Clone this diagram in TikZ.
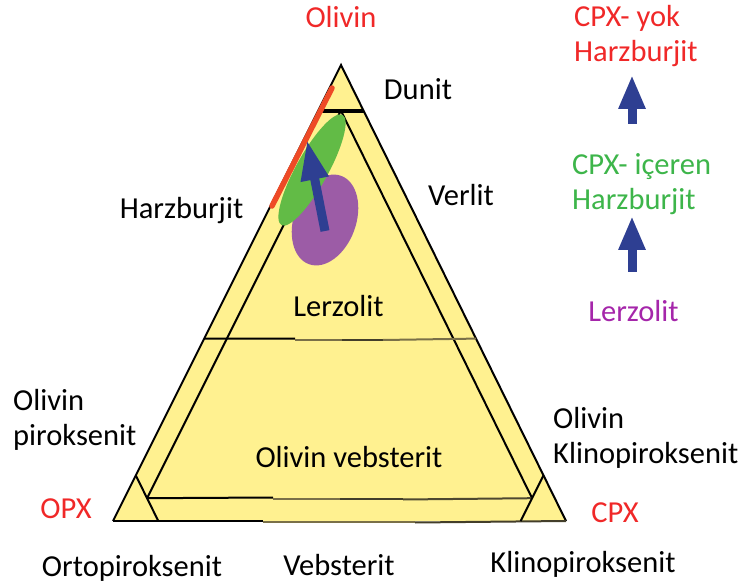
\documentclass[tikz,border=0pt]{standalone}
\usepackage{fontspec}
\setmainfont{Carlito}
\usetikzlibrary{arrows.meta}
\definecolor{triyellow}{HTML}{FFF190}
\definecolor{lblred}{HTML}{F02828}
\definecolor{lblgreen}{HTML}{3DB54A}
\definecolor{lblpurple}{HTML}{A526AA}
\definecolor{blobpurple}{HTML}{9C5CA6}
\definecolor{blobgreen}{HTML}{62BB46}
\definecolor{bandred}{HTML}{EE4A26}
\definecolor{arrowblue}{HTML}{2E3F92}
\definecolor{fadeline}{HTML}{7A7048}
\definecolor{darkline}{HTML}{433E2A}
\begin{document}
\begin{tikzpicture}[x=1pt,y=-1pt,
    lbl/.style={font=\fontsize{30.5}{36}\selectfont, inner sep=0pt, anchor=base},
    lblw/.style={lbl, anchor=base west},
    edge/.style={line width=2pt, line join=miter},
    uparrow/.style={arrowblue, line width=9pt, -{Triangle[length=34pt,width=25pt]}}]
    \useasboundingbox (0,0) rectangle (747,585);

    \coordinate (ol) at (341,65);
    \coordinate (opx) at (113,521);
    \coordinate (cpx) at (566,521);

    % field and outer sides
    \fill[triyellow] (ol) -- (opx) -- (cpx) -- cycle;
    \draw[edge] (opx) -- (ol) -- (cpx);
    \draw[edge] (opx) -- (263,521);
    \draw[edge, fadeline] (263,522) -- (415,522);
    \draw[edge, darkline] (415,522.5) -- (cpx);

    % 5 % lines
    \draw[edge] (barycentric cs:ol=0.9,opx=0.05,cpx=0.05) -- (barycentric cs:ol=0.05,opx=0.9,cpx=0.05);
    \draw[edge] (barycentric cs:ol=0.9,opx=0.05,cpx=0.05) -- (barycentric cs:ol=0.05,opx=0.05,cpx=0.9);

    % 40 % olivine
    \draw[edge] (barycentric cs:ol=0.4,opx=0.6) -- (295,338.6);
    \draw[edge, fadeline] (295,339.5) -- (342,339.5);
    \draw[edge, darkline] (342,339.5) -- (383,339.5);
    \draw[edge, fadeline] (383,340) -- (barycentric cs:ol=0.4,cpx=0.6);

    % 5 % olivine
    \draw[edge] (barycentric cs:ol=0.05,opx=0.9,cpx=0.05) -- (273,497.5);
    \draw[edge, fadeline] (273,498.5) -- (340,498.5);
    \draw[edge, darkline] (340,499) -- (403,499);
    \draw[edge, darkline!80!fadeline] (403,499.5) -- (barycentric cs:ol=0.05,opx=0.05,cpx=0.9);

    % pyroxenite corners
    \draw[edge] (barycentric cs:ol=0.1,opx=0.9) -- (barycentric cs:opx=0.9,cpx=0.1);
    \draw[edge] (barycentric cs:ol=0.1,cpx=0.9) -- (barycentric cs:opx=0.1,cpx=0.9);

    % dunite
    \draw[line width=4pt] (barycentric cs:ol=0.9,opx=0.1) -- (barycentric cs:ol=0.9,cpx=0.1);

    % fields of the trend
    \fill[blobpurple, rotate around={70:(325,220)}] (325,220) ellipse [x radius=47, y radius=31];
    \fill[blobgreen, rotate around={61:(312,170)}] (312,170) ellipse [x radius=63, y radius=16];
    \draw[bandred, line width=5.5pt, line cap=round] (332,88) -- (272,206);

    \coordinate (trendtail) at (325,231);
    \coordinate (trendtip) at (307,140);
    \draw[uparrow, -{Triangle[length=40pt,width=26pt]}] (trendtail) -- (trendtip);

    % labels on the diagram
    \node[lbl, lblred] (olT) at (341,28) {Olivin};
    \node[lbl] (dunit) at (418,100) {Dunit};
    \node[lbl] (verlit) at (461,206) {Verlit};
    \node[lbl] (harz) at (181.5,219) {Harzburjit};
    \node[lbl] (lerz) at (338.5,317) {Lerzolit};
    \node[lbl] (olveb) at (349,467) {Olivin vebsterit};
    \node[lblw] (olpirA) at (13,410) {Olivin};
    \node[lblw] (olpirB) at (13,445) {piroksenit};
    \node[lblw] (olklinA) at (553,428) {Olivin};
    \node[lblw] (olklinB) at (553,463) {Klinopiroksenit};
    \node[lbl, lblred] (opxL) at (66,518) {OPX};
    \node[lbl, lblred] (cpxL) at (615,522) {CPX};
    \node[lbl] (ortopir) at (132,576) {Ortopiroksenit};
    \node[lbl] (veb) at (339,575) {Vebsterit};
    \node[lbl] (klinopir) at (583,572) {Klinopiroksenit};

    % trend legend
    \node[lblw, lblred] (yokA) at (574,27) {CPX- yok};
    \node[lblw, lblred] (yokB) at (574,62) {Harzburjit};
    \node[lblw, lblgreen] (icerenA) at (572,175) {CPX- içeren};
    \node[lblw, lblgreen] (icerenB) at (572,210) {Harzburjit};
    \node[lbl, lblpurple] (lerzR) at (633.5,322) {Lerzolit};

    \coordinate (stepAtail) at (632,124);
    \coordinate (stepAtip) at (632,75);
    \coordinate (stepBtail) at (632,272);
    \coordinate (stepBtip) at (632,216);
    \draw[uparrow] (stepAtail) -- (stepAtip);
    \draw[uparrow] (stepBtail) -- (stepBtip);
\end{tikzpicture}
\end{document}
